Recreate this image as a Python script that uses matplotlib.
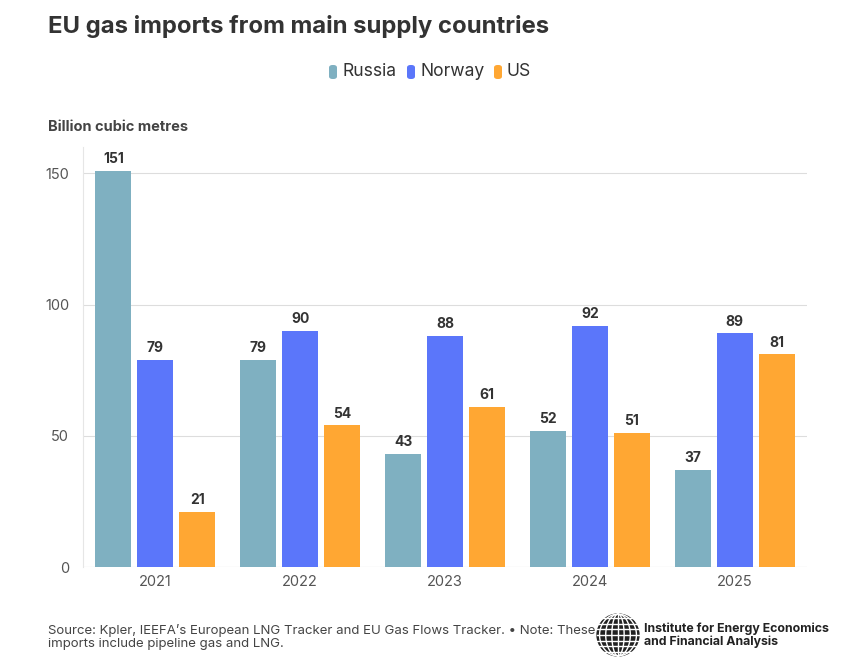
import matplotlib
matplotlib.use("Agg")
import matplotlib.pyplot as plt
import numpy as np
from matplotlib.patches import FancyBboxPatch, Circle

plt.rcParams['font.family'] = ['Inter', 'DejaVu Sans']

years = ['2021', '2022', '2023', '2024', '2025']
series_names = ['Russia', 'Norway', 'US']
russia = [151, 79, 43, 52, 37]
norway = [79, 90, 88, 92, 89]
us = [21, 54, 61, 51, 81]
colors = ['#7FB0C1', '#5B76FA', '#FFA733']
yticks = [0, 50, 100, 150]

fig = plt.figure(figsize=(8.58, 6.70), dpi=100)
ax = fig.add_axes([0.0967, 0.1537, 0.8439, 0.6269])

x = np.arange(len(years))
width = 0.25
offset = 0.29
for i, (vals, c) in enumerate(zip([russia, norway, us], colors)):
    pos = x + (i - 1) * offset
    bars = ax.bar(pos, vals, width=width, color=c, zorder=3)
    for p, v in zip(pos, vals):
        ax.text(p, v + 1.8, str(v), ha='center', va='bottom', fontsize=10,
                fontweight='bold', color='#333333', zorder=4)

ax.set_xlim(-0.5, 4.5)
ax.set_ylim(0, 160)
ax.set_yticks(yticks)
ax.set_xticks(x)
ax.set_xticklabels(years)
ax.tick_params(axis='both', length=0, labelsize=10.5, labelcolor='#555555')
ax.tick_params(axis='y', pad=10)
ax.tick_params(axis='x', pad=6)
for t in ax.get_yticklabels():
    t.set_ha('right')
ax.yaxis.grid(True, color='#dddddd', linewidth=0.8, zorder=0)
for s in ['top', 'right', 'bottom']:
    ax.spines[s].set_visible(False)
ax.spines['left'].set_color('#e6e6e6')
ax.spines['left'].set_linewidth(0.8)
ax.axhline(0, color='#dddddd', linewidth=0.8, zorder=2)

fig.text(48/858, 1 - 26/670, 'EU gas imports from main supply countries', fontsize=17.2,
         fontweight='bold', color='#333333', va='center', ha='left')
fig.text(48/858, 1 - 127/670, 'Billion cubic metres', fontsize=10.5,
         fontweight='bold', color='#444444', va='center', ha='left')

# legend
leg_items = [(329, 'Russia'), (407, 'Norway'), (494, 'US')]
for (px, name), c in zip(leg_items, colors):
    fig.patches.append(FancyBboxPatch((px/858, 1 - 79/670), 8/858, 14/670,
                                      boxstyle='round,pad=0,rounding_size=0.004',
                                      transform=fig.transFigure, facecolor=c,
                                      edgecolor='none'))
    fig.text((px + 13)/858, 1 - 72/670, name, fontsize=12.6, color='#333333',
             va='center', ha='left')

fig.text(48/858, 1 - 637/670,
         'Source: Kpler, IEEFA\u2019s European LNG Tracker and EU Gas Flows Tracker. \u2022 Note: These\nimports include pipeline gas and LNG.',
         fontsize=9.5, color='#444444', va='center', ha='left', linespacing=1.2)

# logo
lax = fig.add_axes([596/858, 1 - 657/670, 44/858, 44/670])
lax.set_xlim(-1.05, 1.05)
lax.set_ylim(-1.05, 1.05)
lax.set_aspect('equal')
lax.axis('off')
lax.add_patch(Circle((0, 0), 1, facecolor='#222222', edgecolor='#222222'))
for k in np.linspace(-0.8, 0.8, 7):
    lax.plot([-1, 1], [k, k], color='white', linewidth=1.0)
    xs = np.linspace(-1, 1, 50)
    lax.plot(k * np.sqrt(np.clip(1 - xs**2, 0, 1)) * 1.1, xs, color='white', linewidth=1.0)
fig.text(644/858, 1 - 635/670, 'Institute for Energy Economics\nand Financial Analysis',
         fontsize=8.9, fontweight='bold', color='#222222', va='center', ha='left',
         linespacing=1.05)

fig.savefig('out.png', dpi=100, facecolor='white')
